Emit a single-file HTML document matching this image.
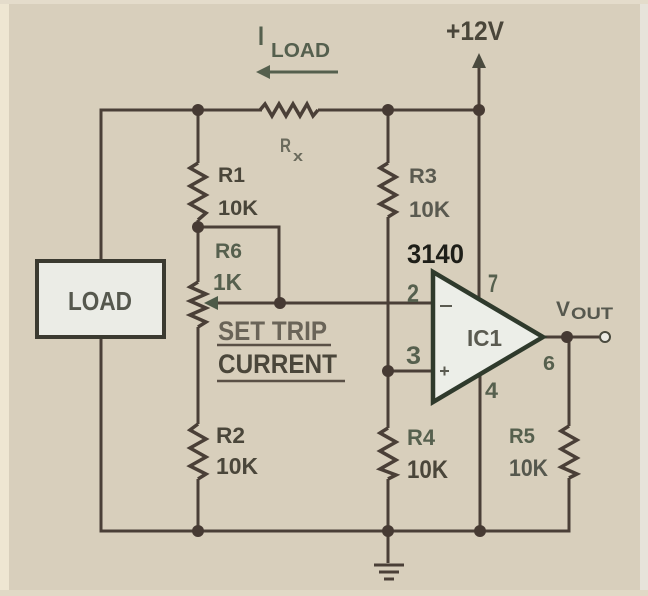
<!DOCTYPE html>
<html><head><meta charset="utf-8"><style>
html,body{margin:0;padding:0;background:#d8cfbc;}
svg{display:block;}
text{font-family:"Liberation Sans",sans-serif;font-weight:bold;fill:#4a463a;}
</style></head><body>
<svg width="648" height="596" viewBox="0 0 648 596" xmlns="http://www.w3.org/2000/svg">
<rect x="0" y="0" width="648" height="596" fill="#d8cfbc"/>
<rect x="0" y="0" width="9" height="596" fill="#eee6d2"/>
<rect x="640" y="0" width="8" height="596" fill="#e7e3da"/>
<rect x="0" y="0" width="648" height="4" fill="#e4dccb"/>
<rect x="0" y="590" width="648" height="6" fill="#e1d9c6"/>

<g fill="none" stroke="#4a3f37" stroke-width="3" stroke-linejoin="miter">
<!-- top wire -->
<path d="M101,260 V110 H262"/>
<polyline stroke-width="3.5" points="260,110 265,104 272,116 279,104 286,116 293,104 300,116 307,104 313,116 318,110"/>
<path d="M318,110 H479"/>
<!-- left/bottom -->
<path d="M101,337 V531 H569 V478"/>
<!-- R5 -->
<path d="M569,337 V426"/>
<polyline stroke-width="3.5" points="569,426 561,431 577,440 561,449 577,458 561,467 577,474 569,478"/>
<!-- output -->
<path d="M543,337 H600"/>
<!-- +12V -->
<path d="M479,64 V300"/>
<!-- R3/R4 column -->
<path d="M388,110 V163"/>
<polyline stroke-width="3.5" points="388,163 380,168 396,177 380,186 396,195 380,204 396,212 388,217"/>
<path d="M388,217 V428"/>
<polyline stroke-width="3.5" points="388,428 380,433 396,442 380,451 396,460 380,469 396,475 388,479"/>
<path d="M388,479 V563"/>
<!-- pin2 / pin3 -->
<path d="M216,303 H433"/>
<path d="M388,371 H433"/>
<!-- pin4 -->
<path d="M480,374 V531"/>
<!-- left column -->
<path d="M198,110 V163"/>
<polyline stroke-width="3.5" points="198,163 190,168 206,177 190,186 206,195 190,204 206,213 198,220"/>
<path d="M198,220 V282"/>
<polyline stroke-width="3.5" points="198,282 190,287 206,294 190,301 206,308 190,315 206,322 198,327"/>
<path d="M198,327 V424"/>
<polyline stroke-width="3.5" points="198,424 190,430 206,439 190,448 206,457 190,466 206,474 198,479"/>
<path d="M198,479 V531"/>
<!-- pot loop -->
<path d="M198,227 H279 V303"/>
<!-- I load arrow -->
<path d="M338,72 H266" stroke="#55604e"/>
<!-- ground -->
<path d="M374,565 H404 M379,572 H399 M384,579 H394"/>
</g>

<!-- arrowheads -->
<polygon points="479,53 472,68 486,68" fill="#4a4a3e"/>
<polygon points="204,303 218,296 218,310" fill="#4d5a48"/>
<polygon points="256,72 270,65 270,79" fill="#55604e"/>

<!-- nodes -->
<g fill="#463a33">
<circle cx="198" cy="110" r="6"/>
<circle cx="388" cy="110" r="6"/>
<circle cx="479" cy="110" r="6"/>
<circle cx="198" cy="227" r="6"/>
<circle cx="280" cy="303" r="6"/>
<circle cx="388" cy="371" r="6"/>
<circle cx="567" cy="337" r="6"/>
<circle cx="198" cy="531" r="6"/>
<circle cx="388" cy="531" r="6"/>
<circle cx="480" cy="531" r="6"/>
</g>
<circle cx="605" cy="337" r="5" fill="#ecebe4" stroke="#4a4a3e" stroke-width="2"/>

<!-- LOAD box -->
<rect x="37" y="261" width="127" height="76" fill="#ebece6" stroke="#3b3a30" stroke-width="4"/>
<text x="68" y="310" font-size="26" textLength="64" lengthAdjust="spacingAndGlyphs" style="fill:#56584e">LOAD</text>

<!-- op amp -->
<polygon points="433,272 433,402 543,337" fill="#eceee8" stroke="#2f3a2c" stroke-width="4.5"/>
<path d="M440,306 H452" stroke="#5a5a50" stroke-width="2"/>
<path d="M440,371 H449 M444.5,366.5 V375.5" stroke="#5a5a50" stroke-width="2"/>
<text x="467" y="346" font-size="23" textLength="35" lengthAdjust="spacingAndGlyphs" style="fill:#5a5a50">IC1</text>

<!-- labels -->
<text x="446" y="40" font-size="27" textLength="58" lengthAdjust="spacingAndGlyphs">+12V</text>
<text x="258" y="45" font-size="27" textLength="6" lengthAdjust="spacingAndGlyphs" style="fill:#55604e">I</text>
<text x="271" y="57" font-size="20" textLength="59" lengthAdjust="spacingAndGlyphs" style="fill:#55604e">LOAD</text>
<text x="280" y="152" font-size="19" textLength="11" lengthAdjust="spacingAndGlyphs" style="fill:#6a6a5c">R</text>
<text x="293" y="161" font-size="15" textLength="10" lengthAdjust="spacingAndGlyphs" style="fill:#6a6a5c">x</text>

<text x="218" y="182" font-size="21" textLength="27" lengthAdjust="spacingAndGlyphs">R1</text>
<text x="218" y="215" font-size="21" textLength="40" lengthAdjust="spacingAndGlyphs">10K</text>
<text x="215" y="258" font-size="21" textLength="27" lengthAdjust="spacingAndGlyphs" style="fill:#56604e">R6</text>
<text x="213" y="290" font-size="23" textLength="29" lengthAdjust="spacingAndGlyphs" style="fill:#56604e">1K</text>
<text x="218" y="340" font-size="27" textLength="109" lengthAdjust="spacingAndGlyphs" style="fill:#6a6458">SET TRIP</text>
<path d="M217,345 H331" stroke="#5a5046" stroke-width="2.5"/>
<text x="218" y="373" font-size="27" textLength="119" lengthAdjust="spacingAndGlyphs">CURRENT</text>
<path d="M217,381 H345" stroke="#5a5046" stroke-width="2.5"/>
<text x="216" y="443" font-size="22" textLength="29" lengthAdjust="spacingAndGlyphs">R2</text>
<text x="216" y="474" font-size="23" textLength="42" lengthAdjust="spacingAndGlyphs">10K</text>

<text x="409" y="183" font-size="21" textLength="28" lengthAdjust="spacingAndGlyphs" style="fill:#5a5a50">R3</text>
<text x="409" y="217" font-size="22" textLength="41" lengthAdjust="spacingAndGlyphs" style="fill:#5a5a50">10K</text>
<text x="407" y="263" font-size="27" textLength="57" lengthAdjust="spacingAndGlyphs" style="fill:#1e1e18">3140</text>
<text x="407" y="445" font-size="22" textLength="28" lengthAdjust="spacingAndGlyphs" style="fill:#56604e">R4</text>
<text x="407" y="478" font-size="25" textLength="41" lengthAdjust="spacingAndGlyphs">10K</text>
<text x="509" y="443" font-size="21" textLength="26" lengthAdjust="spacingAndGlyphs" style="fill:#56604e">R5</text>
<text x="509" y="476" font-size="24" textLength="39" lengthAdjust="spacingAndGlyphs" style="fill:#56584e">10K</text>

<text x="407" y="302" font-size="25" textLength="12" lengthAdjust="spacingAndGlyphs" style="fill:#56604e">2</text>
<text x="406" y="364" font-size="25" textLength="15" lengthAdjust="spacingAndGlyphs" style="fill:#56604e">3</text>
<text x="488" y="292" font-size="25" textLength="10" lengthAdjust="spacingAndGlyphs" style="fill:#56604e">7</text>
<text x="485" y="398" font-size="22" textLength="13" lengthAdjust="spacingAndGlyphs" style="fill:#56604e">4</text>
<text x="543" y="370" font-size="20" textLength="12" lengthAdjust="spacingAndGlyphs" style="fill:#56604e">6</text>
<text x="556" y="316" font-size="21" textLength="14" lengthAdjust="spacingAndGlyphs" style="fill:#56584e">V</text>
<text x="571" y="319" font-size="17" textLength="42" lengthAdjust="spacingAndGlyphs" style="fill:#56584e">OUT</text>
</svg>
</body></html>
